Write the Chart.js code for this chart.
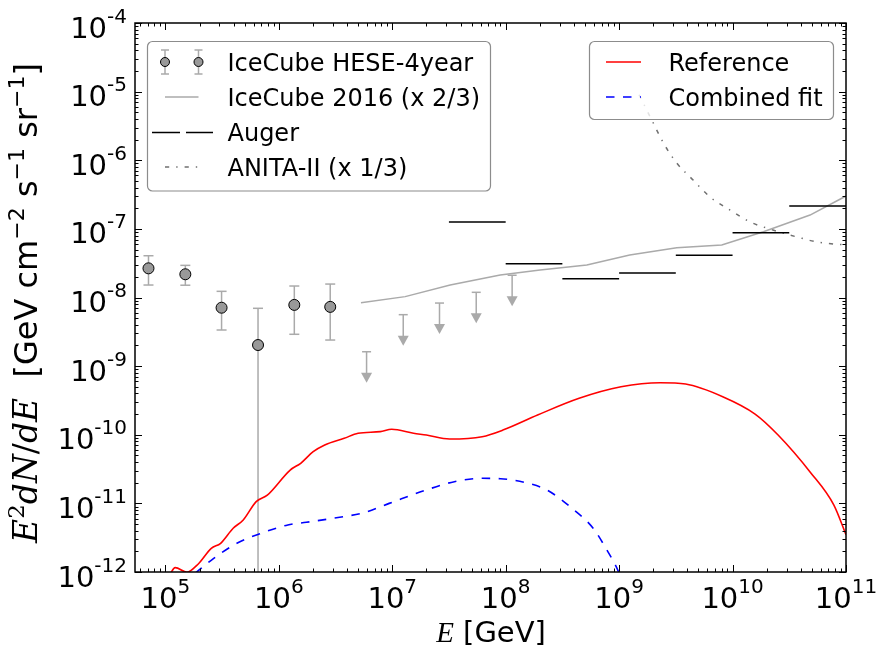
<!DOCTYPE html>
<html>
<head>
<meta charset="utf-8">
<script src="https://cdn.jsdelivr.net/npm/chart.js@4.4.0/dist/chart.umd.min.js"></script>
<style>
    html, body { margin: 0; padding: 0; background: #fff; }
    #wrap { width: 877px; height: 651px; }
</style>
</head>
<body>
<div id="wrap"><canvas id="fluxChart" width="877" height="651"></canvas></div>
<script>
/**
 * Neutrino flux chart (E^2 dN/dE vs E)
 */

// Axis ranges and tick labels (powers of ten)
const xMin = 5.4e4, xMax = 1e11;
const yMin = 1e-12, yMax = 1e-4;
const xTickExps = [5, 6, 7, 8, 9, 10, 11];
const yTickExps = [-12, -11, -10, -9, -8, -7, -6, -5, -4];

// IceCube HESE 4-year points with error bars
const heseE = [7.1e4, 1.5e5, 3.13e5, 6.56e5, 1.37e6, 2.84e6];
const heseFlux = [2.66e-8, 2.18e-8, 7.1e-9, 2.03e-9, 7.8e-9, 7.3e-9];
const heseHigh = [4.06e-8, 2.94e-8, 1.23e-8, 6.96e-9, 1.47e-8, 1.57e-8];
const heseLow = [1.52e-8, 1.51e-8, 3.36e-9, 1e-14, 2.91e-9, 2.4e-9];

// IceCube HESE upper limits
const limitE = [5.94e6, 1.25e7, 2.61e7, 5.5e7, 1.14e8];
const limitFlux = [1.62e-9, 5.62e-9, 8.3e-9, 1.19e-8, 2.11e-8];

// IceCube 2016 (x 2/3)
const ic2016E = [5.3e6, 1.3e7, 3.24e7, 8.95e7, 2.01e8, 5.19e8, 1.24e9, 3.22e9, 8.03e9, 1.87e10, 4.82e10, 1e11];
const ic2016Flux = [8.4e-9, 1.03e-8, 1.52e-8, 2.13e-8, 2.52e-8, 2.98e-8, 4.16e-8, 5.32e-8, 5.82e-8, 9.1e-8, 1.59e-7, 3.01e-7];

// Auger bins
const augerLow = [3.16e7, 1e8, 3.16e8, 1e9, 3.16e9, 1e10, 3.16e10];
const augerHigh = [1e8, 3.16e8, 1e9, 3.16e9, 1e10, 3.16e10, 1e11];
const augerFlux = [1.26e-7, 3.11e-8, 1.88e-8, 2.28e-8, 4.12e-8, 8.8e-8, 2.16e-7];

// ANITA-II (x 1/3)
const anitaE = [1.5e9, 1.94e9, 2.46e9, 3.22e9, 4.49e9, 6.34e9, 9.5e9, 1.43e10, 2.27e10, 3.7e10, 5.55e10, 1e11];
const anitaFlux = [9e-6, 3.86e-6, 1.78e-6, 9.12e-7, 5.15e-7, 2.91e-7, 1.88e-7, 1.26e-7, 9.63e-8, 7.62e-8, 6.44e-8, 5.82e-8];

// Reference model
const refE = [1.05e5, 1.12e5, 1.22e5, 1.55e5, 1.95e5, 2.54e5, 3.07e5, 3.96e5, 4.86e5, 6.32e5, 7.92e5, 1.26e6, 1.56e6,
    2.01e6, 2.54e6, 3.77e6, 5.0e6, 7.84e6, 9.9e6, 1.54e7, 2.0e7, 3.2e7, 6.2e7, 9.45e7, 1.91e8, 4.44e8, 1.04e9,
    2.3e9, 3.86e9, 8.19e9, 1.58e10, 2.52e10, 4.88e10, 7.8e10, 1e11];
const refFlux = [8e-13, 9.8e-13, 1.16e-12, 9.9e-13, 1.31e-12, 2.21e-12, 2.62e-12, 4.34e-12, 5.73e-12, 1.06e-11, 1.32e-11,
    3.06e-11, 3.84e-11, 5.66e-11, 7.1e-11, 8.88e-11, 1.05e-10, 1.11e-10, 1.2e-10, 1.05e-10, 9.9e-11, 8.67e-11,
    9.37e-11, 1.17e-10, 1.94e-10, 3.4e-10, 5.0e-10, 5.73e-10, 5.48e-10, 3.58e-10, 2.0e-10, 9.9e-11, 2.8e-11,
    9.5e-12, 3.5e-12];

// Combined fit
const fitE = [1.83e5, 2.67e5, 4.27e5, 6.7e5, 1.2e6, 1.75e6, 3.7e6, 5.38e6, 9.4e6, 2.0e7, 3.52e7, 6.2e7, 9.0e7,
    1.58e8, 2.31e8, 3.69e8, 5.9e8, 7.8e8, 9.9e8, 1.15e9];
const fitFlux = [9.6e-13, 1.58e-12, 2.62e-12, 3.58e-12, 4.84e-12, 5.3e-12, 6.4e-12, 7.16e-12, 1.0e-11, 1.57e-11,
    2.07e-11, 2.32e-11, 2.29e-11, 1.96e-11, 1.57e-11, 8.95e-12, 4.34e-12, 2.09e-12, 1.0e-12, 5e-13];

(function () {
    'use strict';

    const GRAY = '#aaaaaa';
    const ANITA_GRAY = '#707070';
    const SANS = '"DejaVu Sans"';
    const MATH = '"Liberation Serif"';
    const MATH_Y = '"DejaVu Serif"';
    const DASH = [8.5, 8.5];
    const DASH_DOT = [4.2, 7, 1.4, 7];

    function toPoints(xs, ys) {
        return xs.map((x, i) => ({ x: x, y: ys[i] }));
    }

    function augerPoints() {
        const out = [];
        augerFlux.forEach((f, i) => {
            out.push({ x: augerLow[i], y: f }, { x: augerHigh[i], y: f }, { x: augerHigh[i], y: null });
        });
        return out;
    }

    function seg(ctx, x1, y1, x2, y2) {
        ctx.beginPath();
        ctx.moveTo(x1, y1);
        ctx.lineTo(x2, y2);
        ctx.stroke();
    }

    /**
     * Error bars and upper-limit arrows (drawn under the markers)
     */
    const errorBarPlugin = {
        id: 'errorBars',
        beforeDatasetsDraw(chart) {
            const { ctx, chartArea: a } = chart;
            const xs = chart.scales.x, ys = chart.scales.y;
            ctx.save();
            ctx.beginPath();
            ctx.rect(a.left, a.top, a.right - a.left, a.bottom - a.top);
            ctx.clip();
            ctx.strokeStyle = GRAY;
            ctx.fillStyle = GRAY;
            ctx.lineWidth = 1.5;

            heseE.forEach((e, i) => {
                const px = xs.getPixelForValue(e);
                const top = ys.getPixelForValue(heseHigh[i]);
                const bot = ys.getPixelForValue(heseLow[i]);
                seg(ctx, px, top, px, bot);
                seg(ctx, px - 5, top, px + 5, top);
                seg(ctx, px - 5, bot, px + 5, bot);
            });

            limitE.forEach((e, i) => {
                const px = xs.getPixelForValue(e);
                const top = ys.getPixelForValue(limitFlux[i]);
                const tip = top + 31;
                seg(ctx, px - 4.5, top, px + 4.5, top);
                seg(ctx, px, top, px, tip - 8);
                ctx.beginPath();
                ctx.moveTo(px - 5.5, tip - 10);
                ctx.lineTo(px + 5.5, tip - 10);
                ctx.lineTo(px, tip);
                ctx.closePath();
                ctx.fill();
            });
            ctx.restore();
        }
    };

    function drawPower(ctx, exp, px, baseline, align) {
        const base = '10', sup = String(exp);
        ctx.font = '29px ' + SANS;
        const wb = ctx.measureText(base).width;
        ctx.font = '20px ' + SANS;
        const ws = ctx.measureText(sup).width;
        const left = align === 'center' ? px - (wb + ws) / 2 : px - wb - ws;
        ctx.textAlign = 'left';
        ctx.textBaseline = 'alphabetic';
        ctx.fillStyle = '#000';
        ctx.font = '29px ' + SANS;
        ctx.fillText(base, left, baseline);
        ctx.font = '20px ' + SANS;
        ctx.fillText(sup, left + wb, baseline - 15);
    }

    // pieces: [text, font, raise]
    function drawPieces(ctx, pieces, x, baseline, align) {
        let total = 0;
        pieces.forEach(p => { ctx.font = p[1]; total += ctx.measureText(p[0]).width; });
        let cx = align === 'center' ? x - total / 2 : x;
        ctx.textAlign = 'left';
        ctx.textBaseline = 'alphabetic';
        ctx.fillStyle = '#000';
        pieces.forEach(p => {
            ctx.font = p[1];
            ctx.fillText(p[0], cx, baseline - (p[2] || 0));
            cx += ctx.measureText(p[0]).width;
        });
    }

    function legendBox(ctx, x, y, w, h) {
        ctx.save();
        ctx.beginPath();
        ctx.roundRect(x, y, w, h, 5);
        ctx.fillStyle = 'rgba(255,255,255,0.8)';
        ctx.fill();
        ctx.strokeStyle = '#8c8c8c';
        ctx.lineWidth = 1.2;
        ctx.stroke();
        ctx.restore();
    }

    function legendText(ctx, text, x, rowY) {
        ctx.font = '24px ' + SANS;
        ctx.fillStyle = '#000';
        ctx.textAlign = 'left';
        ctx.textBaseline = 'alphabetic';
        ctx.fillText(text, x, rowY + 8.5);
    }

    /**
     * Frame, inward ticks, tick labels, axis titles and legends
     */
    const axesPlugin = {
        id: 'axesFrame',
        afterDatasetsDraw(chart) {
            const { ctx, chartArea: a } = chart;
            const xs = chart.scales.x, ys = chart.scales.y;
            ctx.save();

            // ticks
            ctx.strokeStyle = '#000';
            ctx.lineWidth = 1;
            for (let n = 4; n <= 11; n++) {
                for (let k = 1; k <= 9; k++) {
                    const v = k * Math.pow(10, n);
                    if (v < xMin || v > xMax) continue;
                    const px = Math.round(xs.getPixelForValue(v)) + 0.5;
                    const len = k === 1 ? 7 : 3.5;
                    seg(ctx, px, a.bottom, px, a.bottom - len);
                    seg(ctx, px, a.top, px, a.top + len);
                }
            }
            for (let n = -12; n <= -4; n++) {
                for (let k = 1; k <= 9; k++) {
                    const v = k * Math.pow(10, n);
                    if (v < yMin * 0.999 || v > yMax * 1.001) continue;
                    const py = Math.round(ys.getPixelForValue(v)) + 0.5;
                    const len = k === 1 ? 7 : 3.5;
                    seg(ctx, a.left, py, a.left + len, py);
                    seg(ctx, a.right, py, a.right - len, py);
                }
            }

            // frame
            ctx.lineWidth = 1.5;
            ctx.strokeRect(a.left, a.top, a.right - a.left, a.bottom - a.top);

            // tick labels
            xTickExps.forEach(e => {
                drawPower(ctx, e, xs.getPixelForValue(Math.pow(10, e)), 607.5, 'center');
            });
            yTickExps.forEach(e => {
                drawPower(ctx, e, 127, ys.getPixelForValue(Math.pow(10, e)) + 14.5, 'right');
            });

            // x title
            drawPieces(ctx, [
                ['E', 'italic 29px ' + MATH, 0],
                [' [GeV]', '29px ' + SANS, 0]
            ], 491, 642, 'center');

            // y title
            ctx.save();
            ctx.translate(37, 303);
            ctx.rotate(-Math.PI / 2);
            drawPieces(ctx, [
                ['E', 'italic 33px ' + MATH_Y, 0],
                ['2', '23px ' + MATH_Y, 13],
                ['dN', 'italic 33px ' + MATH_Y, 0],
                ['/', '33px ' + MATH_Y, 0],
                ['dE', 'italic 33px ' + MATH_Y, 0],
                ['  [GeV cm', '32px ' + SANS, 0],
                ['\u22122', '22px ' + SANS, 13],
                [' s', '32px ' + SANS, 0],
                ['\u22121', '22px ' + SANS, 13],
                [' sr', '32px ' + SANS, 0],
                ['\u22121', '22px ' + SANS, 13],
                [']', '32px ' + SANS, 0]
            ], 0, 0, 'center');
            ctx.restore();

            // left legend
            legendBox(ctx, 147.5, 41.5, 343, 149.5);
            const rows = [62, 97, 132.5, 167];
            ctx.lineWidth = 1.5;
            [165, 198.5].forEach(mx => {
                ctx.strokeStyle = GRAY;
                seg(ctx, mx, rows[0] - 12, mx, rows[0] + 12);
                seg(ctx, mx - 4, rows[0] - 12, mx + 4, rows[0] - 12);
                seg(ctx, mx - 4, rows[0] + 12, mx + 4, rows[0] + 12);
                ctx.beginPath();
                ctx.arc(mx, rows[0], 4.5, 0, Math.PI * 2);
                ctx.fillStyle = '#999999';
                ctx.fill();
                ctx.strokeStyle = '#000';
                ctx.lineWidth = 1;
                ctx.stroke();
                ctx.lineWidth = 1.5;
            });
            ctx.strokeStyle = GRAY;
            seg(ctx, 165, rows[1], 198.5, rows[1]);
            ctx.strokeStyle = '#000';
            seg(ctx, 152, rows[2], 180, rows[2]);
            seg(ctx, 186, rows[2], 213, rows[2]);
            ctx.strokeStyle = ANITA_GRAY;
            ctx.setLineDash(DASH_DOT);
            seg(ctx, 165, rows[3], 198.5, rows[3]);
            ctx.setLineDash([]);
            legendText(ctx, 'IceCube HESE-4year', 227.5, rows[0]);
            legendText(ctx, 'IceCube 2016 (x 2/3)', 227.5, rows[1]);
            legendText(ctx, 'Auger', 227.5, rows[2]);
            legendText(ctx, 'ANITA-II (x 1/3)', 227.5, rows[3]);

            // right legend
            legendBox(ctx, 589.5, 41.5, 244, 78);
            ctx.strokeStyle = '#ff0000';
            seg(ctx, 606, rows[0], 641, rows[0]);
            ctx.strokeStyle = '#0000ff';
            ctx.setLineDash(DASH);
            seg(ctx, 606, rows[1], 641, rows[1]);
            ctx.setLineDash([]);
            legendText(ctx, 'Reference', 668.5, rows[0]);
            legendText(ctx, 'Combined fit', 668.5, rows[1]);

            ctx.restore();
        }
    };

    function initializeChart() {
        const canvas = document.getElementById('fluxChart');
        const lineBase = { showLine: true, pointRadius: 0, borderWidth: 1.5, fill: false, tension: 0 };

        new Chart(canvas, {
            type: 'scatter',
            data: {
                datasets: [
                    Object.assign({}, lineBase, {
                        label: 'ANITA-II (x 1/3)',
                        data: toPoints(anitaE, anitaFlux),
                        borderColor: ANITA_GRAY,
                        borderDash: DASH_DOT,
                        cubicInterpolationMode: 'monotone',
                        order: 6
                    }),
                    Object.assign({}, lineBase, {
                        label: 'IceCube 2016 (x 2/3)',
                        data: toPoints(ic2016E, ic2016Flux),
                        borderColor: GRAY,
                        order: 5
                    }),
                    Object.assign({}, lineBase, {
                        label: 'Auger',
                        data: augerPoints(),
                        borderColor: '#000000',
                        spanGaps: false,
                        order: 4
                    }),
                    Object.assign({}, lineBase, {
                        label: 'Combined fit',
                        data: toPoints(fitE, fitFlux),
                        borderColor: '#0000ff',
                        borderDash: DASH,
                        borderWidth: 1.6,
                        cubicInterpolationMode: 'monotone',
                        order: 3
                    }),
                    Object.assign({}, lineBase, {
                        label: 'Reference',
                        data: toPoints(refE, refFlux),
                        borderColor: '#ff0000',
                        borderWidth: 1.6,
                        cubicInterpolationMode: 'monotone',
                        order: 2
                    }),
                    {
                        label: 'IceCube HESE-4year',
                        data: toPoints(heseE, heseFlux),
                        showLine: false,
                        pointRadius: 5.5,
                        pointBackgroundColor: '#999999',
                        pointBorderColor: '#000000',
                        pointBorderWidth: 1,
                        order: 1
                    }
                ]
            },
            options: {
                responsive: false,
                animation: false,
                devicePixelRatio: 1,
                layout: { padding: { left: 135, right: 31, top: 23, bottom: 79 } },
                plugins: {
                    legend: { display: false },
                    tooltip: { enabled: false }
                },
                scales: {
                    x: { type: 'logarithmic', min: xMin, max: xMax, display: false },
                    y: { type: 'logarithmic', min: yMin, max: yMax, display: false }
                }
            },
            plugins: [errorBarPlugin, axesPlugin]
        });
    }

    initializeChart();
})();
</script>
</body>
</html>
